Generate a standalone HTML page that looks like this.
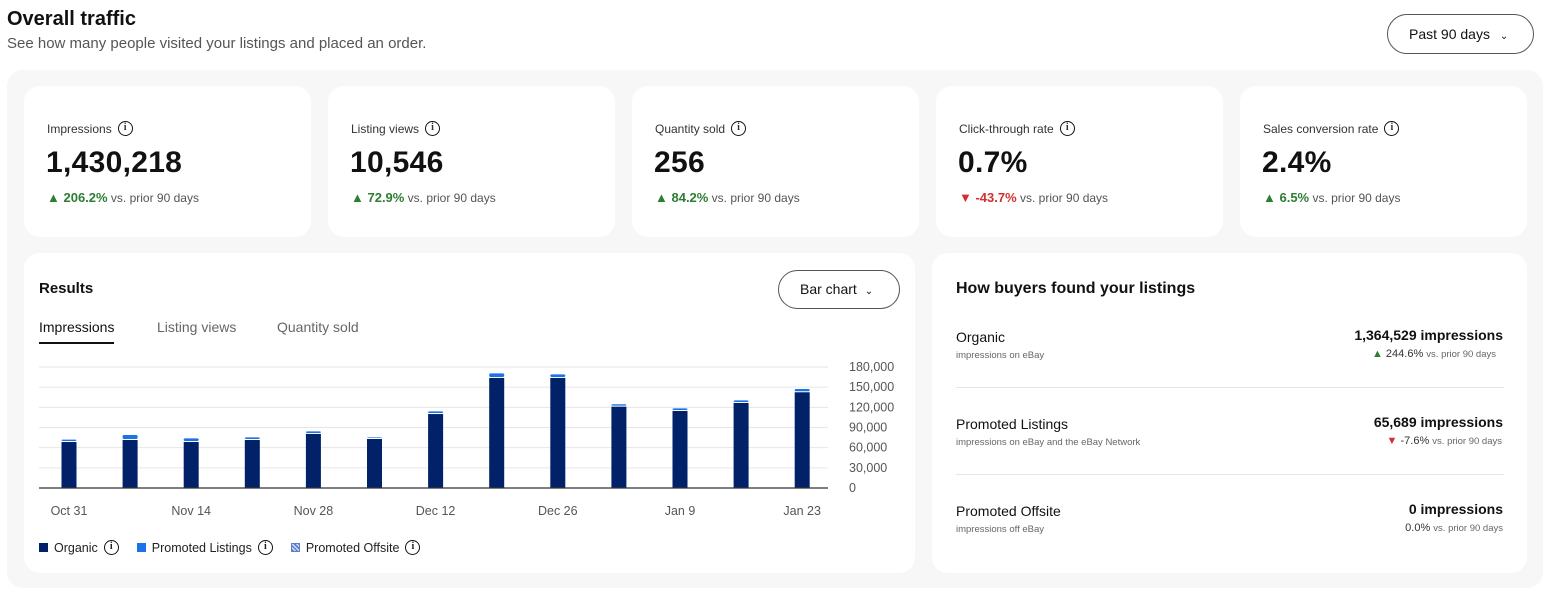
<!DOCTYPE html>
<html><head><meta charset="utf-8">
<style>
*{box-sizing:border-box;margin:0;padding:0}
body{width:1551px;height:599px;background:#fff;font-family:"Liberation Sans",sans-serif;color:#111;position:relative;overflow:hidden}
.abs{position:absolute}
.panel{left:7px;top:70px;width:1536px;height:518px;background:#f7f7f7;border-radius:16px}
.card{background:#fff;border-radius:16px;position:absolute}
.lbl{font-size:12px;color:#333;position:absolute;left:23px;top:35px;display:flex;align-items:center;gap:6px}
.info{display:inline-block;width:15px;height:15px;border:1.6px solid #111;border-radius:50%;font-size:10px;font-weight:bold;text-align:center;line-height:12px;font-family:"Liberation Serif",serif}
.big{position:absolute;left:22px;top:60px;font-size:30px;font-weight:bold;letter-spacing:0.3px}
.chg{position:absolute;left:23px;top:104px;font-size:12px;color:#555}
.up{color:#2d7d32;font-weight:bold;font-size:13px}
.dn{color:#d32f2f;font-weight:bold;font-size:13px}
.tick{font-size:12px;color:#555}
</style></head><body>
<div class="abs" style="left:7px;top:8px;font-size:20px;font-weight:bold">Overall traffic</div>
<div class="abs" style="left:7px;top:35px;font-size:15px;color:#555">See how many people visited your listings and placed an order.</div>
<div class="abs" style="left:1387px;top:14px;width:147px;height:40px;border:1px solid #555;border-radius:20px;font-size:14px;line-height:38px;padding-left:21px">Past 90 days <span style="font-size:10px;margin-left:6px">&#8964;</span></div>
<div class="abs panel"></div>

<div class="card" style="left:24px;top:86px;width:287px;height:151px">
<div class="lbl">Impressions <span class="info">i</span></div><div class="big">1,430,218</div>
<div class="chg"><span class="up">▲ 206.2%</span> vs. prior 90 days</div></div>
<div class="card" style="left:328px;top:86px;width:287px;height:151px">
<div class="lbl">Listing views <span class="info">i</span></div><div class="big">10,546</div>
<div class="chg"><span class="up">▲ 72.9%</span> vs. prior 90 days</div></div>
<div class="card" style="left:632px;top:86px;width:287px;height:151px">
<div class="lbl">Quantity sold <span class="info">i</span></div><div class="big">256</div>
<div class="chg"><span class="up">▲ 84.2%</span> vs. prior 90 days</div></div>
<div class="card" style="left:936px;top:86px;width:287px;height:151px">
<div class="lbl">Click-through rate <span class="info">i</span></div><div class="big">0.7%</div>
<div class="chg"><span class="dn">▼ -43.7%</span> vs. prior 90 days</div></div>
<div class="card" style="left:1240px;top:86px;width:287px;height:151px">
<div class="lbl">Sales conversion rate <span class="info">i</span></div><div class="big">2.4%</div>
<div class="chg"><span class="up">▲ 6.5%</span> vs. prior 90 days</div></div>

<div class="card" style="left:24px;top:253px;width:891px;height:320px">
<div class="abs" style="left:15px;top:27px;font-size:15px;font-weight:bold">Results</div>
<div class="abs" style="left:754px;top:17px;width:122px;height:39px;border:1px solid #555;border-radius:20px;font-size:14px;line-height:37px;padding-left:21px">Bar chart <span style="font-size:10px;margin-left:4px">&#8964;</span></div>
<div class="abs" style="left:15px;top:66px;font-size:14px;padding-bottom:7px;border-bottom:2px solid #111">Impressions</div>
<div class="abs" style="left:133px;top:66px;font-size:14px;color:#666">Listing views</div>
<div class="abs" style="left:253px;top:66px;font-size:14px;color:#666">Quantity sold</div>
<div class="abs" style="left:15px;top:287px;font-size:12.5px;display:flex;align-items:center;color:#222">
<span style="display:flex;align-items:center;gap:6px"><span style="width:9px;height:9px;background:#012169;display:inline-block"></span>Organic <span class="info">i</span></span>
<span style="display:flex;align-items:center;gap:6px;margin-left:18px"><span style="width:9px;height:9px;background:#1a73e8;display:inline-block"></span>Promoted Listings <span class="info">i</span></span>
<span style="display:flex;align-items:center;gap:6px;margin-left:18px"><span style="width:9px;height:9px;background:repeating-linear-gradient(45deg,#5b7fd0 0 1.5px,#cfdaf5 1.5px 3px);display:inline-block;border:1px solid #5b7fd0"></span>Promoted Offsite <span class="info">i</span></span>
</div>
</div>

<svg class="abs" id="chart" style="left:0;top:0" width="1551" height="599"></svg>

<div class="card" style="left:932px;top:253px;width:595px;height:320px">
<div class="abs" style="left:24px;top:27px;font-size:16px;font-weight:bold">How buyers found your listings</div>
<div class="abs" style="left:24px;top:76px;font-size:14px">Organic</div>
<div class="abs" style="left:24px;top:97px;font-size:9.5px;color:#666">impressions on eBay</div>
<div class="abs" style="right:24px;top:74px;font-size:14px;font-weight:bold">1,364,529 impressions</div>
<div class="abs" style="right:31px;top:95px;font-size:11px;color:#333"><span style="color:#2d7d32">▲</span> 244.6% <span style="font-size:9.5px;color:#666">vs. prior 90 days</span></div>
<div class="abs" style="left:24px;top:134px;width:548px;border-top:1px solid #e5e5e5"></div>
<div class="abs" style="left:24px;top:163px;font-size:14px">Promoted Listings</div>
<div class="abs" style="left:24px;top:184px;font-size:9.5px;color:#666">impressions on eBay and the eBay Network</div>
<div class="abs" style="right:24px;top:161px;font-size:14px;font-weight:bold">65,689 impressions</div>
<div class="abs" style="right:25px;top:182px;font-size:11px;color:#333"><span style="color:#d32f2f">▼</span> -7.6% <span style="font-size:9.5px;color:#666">vs. prior 90 days</span></div>
<div class="abs" style="left:24px;top:221px;width:548px;border-top:1px solid #e5e5e5"></div>
<div class="abs" style="left:24px;top:250px;font-size:14px">Promoted Offsite</div>
<div class="abs" style="left:24px;top:271px;font-size:9.5px;color:#666">impressions off eBay</div>
<div class="abs" style="right:24px;top:248px;font-size:14px;font-weight:bold">0 impressions</div>
<div class="abs" style="right:24px;top:269px;font-size:11px;color:#333">0.0% <span style="font-size:9.5px;color:#666">vs. prior 90 days</span></div>
</div>

<script>
const categories=["Oct 31","Nov 7","Nov 14","Nov 21","Nov 28","Dec 5","Dec 12","Dec 19","Dec 26","Jan 2","Jan 9","Jan 16","Jan 23"];
const organic=[68400,71400,68400,71400,80400,72900,110000,163700,163700,121000,114600,126500,142400];
const promoted=[3600,7500,5500,4000,3900,2500,4000,6900,5300,3500,3900,3900,4900];
const yTicks=[0,30000,60000,90000,120000,150000,180000];
const yLabels=["0","30,000","60,000","90,000","120,000","150,000","180,000"];
const xLabelIdx=[0,2,4,6,8,10,12];
const NS="http://www.w3.org/2000/svg";
const svg=document.getElementById("chart");
const y0=488,y1=367,x0=69,step=61.1,bw=15;
const yS=v=>y0-(v/180000)*(y0-y1);
const xS=i=>x0+i*step;
function mk(t,a){const e=document.createElementNS(NS,t);for(const k in a)e.setAttribute(k,a[k]);svg.appendChild(e);return e;}
yTicks.forEach((v,i)=>{
 if(i>0){const g=mk("line",{x1:39,x2:828,y1:yS(v),y2:yS(v),stroke:"#e6e6e6","stroke-width":1});
 
 }
 const t=mk("text",{x:849,y:yS(v)+4,"font-size":12.5,fill:"#555","font-family":"Liberation Sans, sans-serif"});
 t.textContent=yLabels[i];
 
 
});
categories.forEach((c,i)=>{
 const x=xS(i)-bw/2;
 const o=mk("rect",{x:x,y:yS(organic[i]),width:bw,height:y0-yS(organic[i]),fill:"#012169"});
 
 
 const tot=organic[i]+promoted[i];
 const p=mk("rect",{x:x,y:yS(tot),width:bw,height:Math.max(0,yS(organic[i])-yS(tot)-1),fill:"#1a73e8",rx:1.5});
 
 
});
const ax=mk("line",{x1:39,x2:828,y1:y0,y2:y0,stroke:"#333","stroke-width":1.2});


xLabelIdx.forEach(i=>{
 const t=mk("text",{x:xS(i),y:515,"font-size":12.5,fill:"#555","text-anchor":"middle","font-family":"Liberation Sans, sans-serif"});
 t.textContent=categories[i];
 
 
});
</script>
</body></html>
